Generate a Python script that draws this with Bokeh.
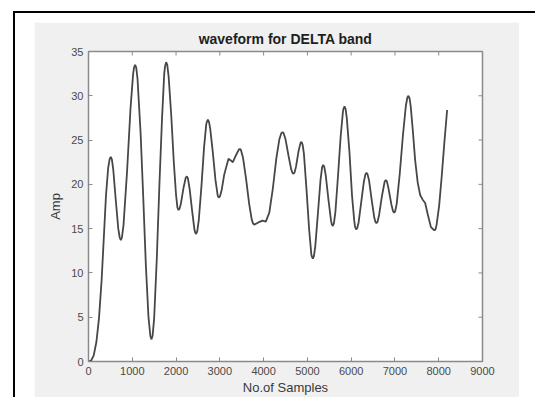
import math
from bokeh.plotting import figure
from bokeh.models import Range1d, FixedTicker, ColumnDataSource
from bokeh.layouts import column
from bokeh.embed import file_html
from bokeh.resources import INLINE

# ---- data ----
samples = [0, 60, 120, 180, 240, 300, 350, 400, 450, 485, 510, 535,
           565, 620, 680, 713, 738, 763,
           800, 880, 960, 1020, 1041, 1066, 1091,
           1120, 1190, 1250, 1310, 1370, 1414, 1439, 1464,
           1500, 1560, 1620, 1680, 1730, 1749, 1774, 1799,
           1830, 1890, 1950, 2000, 2031, 2056, 2081,
           2110, 2170, 2221, 2246, 2271,
           2310, 2370, 2420, 2434, 2459, 2484,
           2520, 2580, 2640, 2690, 2701, 2726, 2751,
           2780, 2840, 2900, 2952, 2977, 3002,
           3040, 3100, 3198, 3250, 3297, 3380, 3432, 3457, 3482,
           3530, 3600, 3670, 3730, 3760, 3785, 3880, 3974, 4050,
           4130, 4210, 4290, 4360, 4406, 4431, 4456,
           4500, 4570, 4630, 4658, 4683, 4708,
           4740, 4800, 4840, 4865, 4890,
           4920, 4980, 5040, 5090, 5099, 5124, 5149,
           5180, 5240, 5300, 5336, 5361, 5386,
           5420, 5480, 5540, 5556, 5581, 5606,
           5640, 5700, 5760, 5810, 5823, 5848, 5873,
           5900, 5960, 6020, 6070, 6089, 6114, 6139,
           6170, 6230, 6290, 6325, 6350, 6375,
           6410, 6470, 6530, 6553, 6578, 6603,
           6640, 6700, 6766, 6791, 6816,
           6850, 6920, 6957, 6982, 7007,
           7040, 7110, 7180, 7250, 7284, 7309, 7334,
           7360, 7410, 7460, 7520, 7576, 7630, 7690, 7750, 7820, 7878, 7903, 7928,
           7950, 8010, 8070, 8130, 8192]
amp = [0.0, 0.1, 0.7, 2.2, 4.9, 9.2, 14.0, 18.8, 21.9, 22.9, 23.1, 22.8,
       21.7, 18.4, 15.0, 14.0, 13.7, 14.0,
       15.4, 21.4, 28.6, 32.5, 33.2, 33.5, 33.15,
       31.9, 25.8, 18.6, 10.9, 5.0, 2.85, 2.5, 2.9,
       4.9, 11.6, 20.0, 27.5, 32.5, 33.35, 33.8, 33.5,
       32.2, 27.8, 22.4, 18.8, 17.4, 17.1, 17.26,
       17.8, 19.6, 20.75, 20.9, 20.68,
       19.5, 16.9, 14.9, 14.62, 14.4, 14.68,
       16.0, 19.8, 24.2, 26.8, 27.0, 27.3, 27.08,
       26.3, 23.6, 20.5, 18.72, 18.5, 18.64,
       19.3, 21.1, 22.9, 22.7, 22.5, 23.4, 23.9, 24.0, 23.88,
       23.0, 20.6, 17.8, 16.0, 15.57, 15.45, 15.7, 15.9, 15.8,
       16.8, 19.5, 22.9, 25.1, 25.79, 25.9, 25.79,
       25.1, 23.2, 21.7, 21.31, 21.2, 21.35,
       22.0, 23.8, 24.63, 24.8, 24.5,
       23.5, 19.4, 14.9, 12.1, 11.9, 11.6, 11.89,
       13.0, 16.7, 20.5, 21.91, 22.2, 21.98,
       21.0, 18.3, 15.9, 15.52, 15.3, 15.59,
       16.9, 21.0, 25.4, 28.1, 28.51, 28.8, 28.5,
       27.5, 23.7, 18.7, 15.9, 15.2, 14.9, 15.08,
       15.7, 18.0, 20.3, 21.12, 21.3, 21.13,
       20.4, 18.2, 16.2, 15.77, 15.6, 15.77,
       16.6, 18.6, 20.33, 20.5, 20.34,
       19.6, 17.7, 16.96, 16.8, 16.99,
       17.8, 21.2, 25.4, 28.9, 29.81, 30.0, 29.7,
       28.8, 26.0, 22.8, 20.2, 18.8, 18.3, 17.9, 16.6, 15.2, 14.9, 14.8, 14.95,
       15.4, 17.6, 21.0, 24.8, 28.4]
x_ticks = [0, 1000, 2000, 3000, 4000, 5000, 6000, 7000, 8000, 9000]
y_ticks = [0, 5, 10, 15, 20, 25, 30, 35]
title_text = "waveform for DELTA band"
x_label = "No.of Samples"
y_label = "Amp"

FONT = "Liberation Sans"
GREY_BG = "#f0f0f0"
BOX = "#8a8a8a"
TXT = "#4a4a4a"

src = ColumnDataSource(dict(x=samples, y=amp))

p = figure(width=485, height=375,
           x_range=Range1d(x_ticks[0], x_ticks[-1]),
           y_range=Range1d(y_ticks[0], y_ticks[-1]),
           output_backend="svg", toolbar_location=None,
           min_border_left=54, min_border_right=37,
           min_border_top=29, min_border_bottom=35,
           border_fill_color=GREY_BG, background_fill_color="white",
           outline_line_color=BOX, outline_line_width=1.5)
p.margin = (9, 0, 0, 19)

p.line("x", "y", source=src, line_color="#474747", line_width=1.8)

# inward tick marks on the top and right edges of the box
p.scatter(x=x_ticks, y=[y_ticks[-1]] * len(x_ticks), marker="dash",
          angle=math.pi / 2, size=8, line_color=BOX, line_width=1)
p.scatter(x=[x_ticks[-1]] * len(y_ticks), y=y_ticks, marker="dash",
          size=8, line_color=BOX, line_width=1)

p.grid.visible = False

p.title.text = title_text
p.title.align = "center"
p.title.text_font = FONT
p.title.text_font_size = "14px"
p.title.text_font_style = "bold"
p.title.text_color = "#1e1e1e"
p.title.standoff = 9

xa = p.xaxis[0]
ya = p.yaxis[0]
xa.ticker = FixedTicker(ticks=x_ticks)
ya.ticker = FixedTicker(ticks=y_ticks)
for ax in (xa, ya):
    ax.axis_line_color = None
    ax.major_tick_in = 4
    ax.major_tick_out = 0
    ax.major_tick_line_color = BOX
    ax.minor_tick_line_color = None
    ax.major_label_text_font = FONT
    ax.major_label_text_font_size = "11px"
    ax.major_label_text_color = TXT
    ax.axis_label_text_font = FONT
    ax.axis_label_text_font_size = "13px"
    ax.axis_label_text_font_style = "normal"
    ax.axis_label_text_color = "#3a3a3a"
xa.axis_label = x_label
ya.axis_label = y_label
xa.major_label_standoff = 5
xa.axis_label_standoff = 2
ya.major_label_standoff = 5
ya.axis_label_standoff = 5

root = column(p, margin=(11, 0, 0, 13), width=522, height=386,
              sizing_mode="fixed",
              styles={"border-left": "2px solid #000",
                      "border-top": "2px solid #000",
                      "overflow": "hidden"})

open("out.html", "w").write(file_html(root, INLINE))
